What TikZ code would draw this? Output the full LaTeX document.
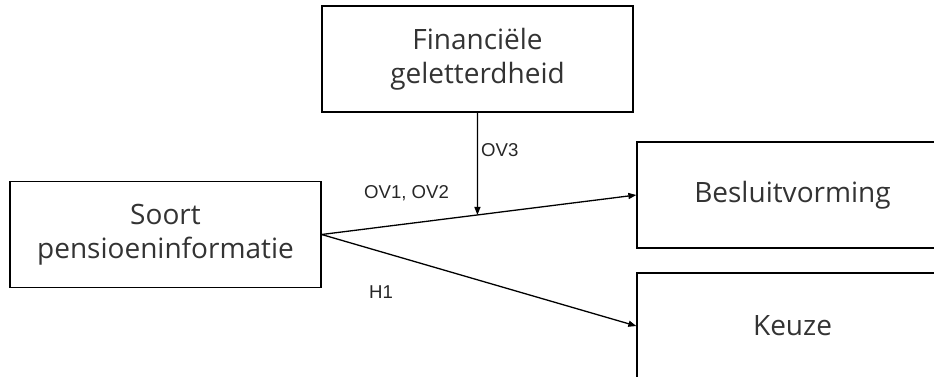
\documentclass[tikz,border=0pt]{standalone}
\usepackage{fontspec}
\setmainfont{Open Sans}
\newfontfamily\lblfont{Liberation Sans}
\usetikzlibrary{arrows.meta}
\begin{document}
\begin{tikzpicture}[x=1pt,y=-1pt,
  box/.style={draw=black, line width=1.3pt, minimum width=311pt, minimum height=106pt,
    align=center, font=\fontsize{28}{34}\selectfont, text=black!80, inner sep=0pt},
  lbl/.style={font=\lblfont\fontsize{18.6}{22}\selectfont, text=black!85, anchor=west, inner sep=0pt},
  arr/.style={-{Triangle[length=8pt,width=6pt]}, line width=1.3pt}]
\useasboundingbox (0,0) rectangle (934,376);
\node[box] (fin) at (477.5,59) {Financiële\\geletterdheid};
\node[box] (soort) at (165.5,234.5) {Soort\\pensioeninformatie};
\node[box] (bes) at (792.5,195) {Besluitvorming};
\node[box] (keu) at (792.5,326) {Keuze};
\draw[arr] (soort.east) -- (bes.west);
\draw[arr] (soort.east) -- (keu.west);
\path (soort.east) -- (bes.west) coordinate[pos=0.495] (m);
\draw[arr] (fin.south) -- (m);
\node[lbl] (ov3) at (481,150) {OV3};
\node[lbl] (ov12) at (364,193) {OV1, OV2};
\node[lbl] (h1) at (369,292) {H1};
\end{tikzpicture}
\end{document}
